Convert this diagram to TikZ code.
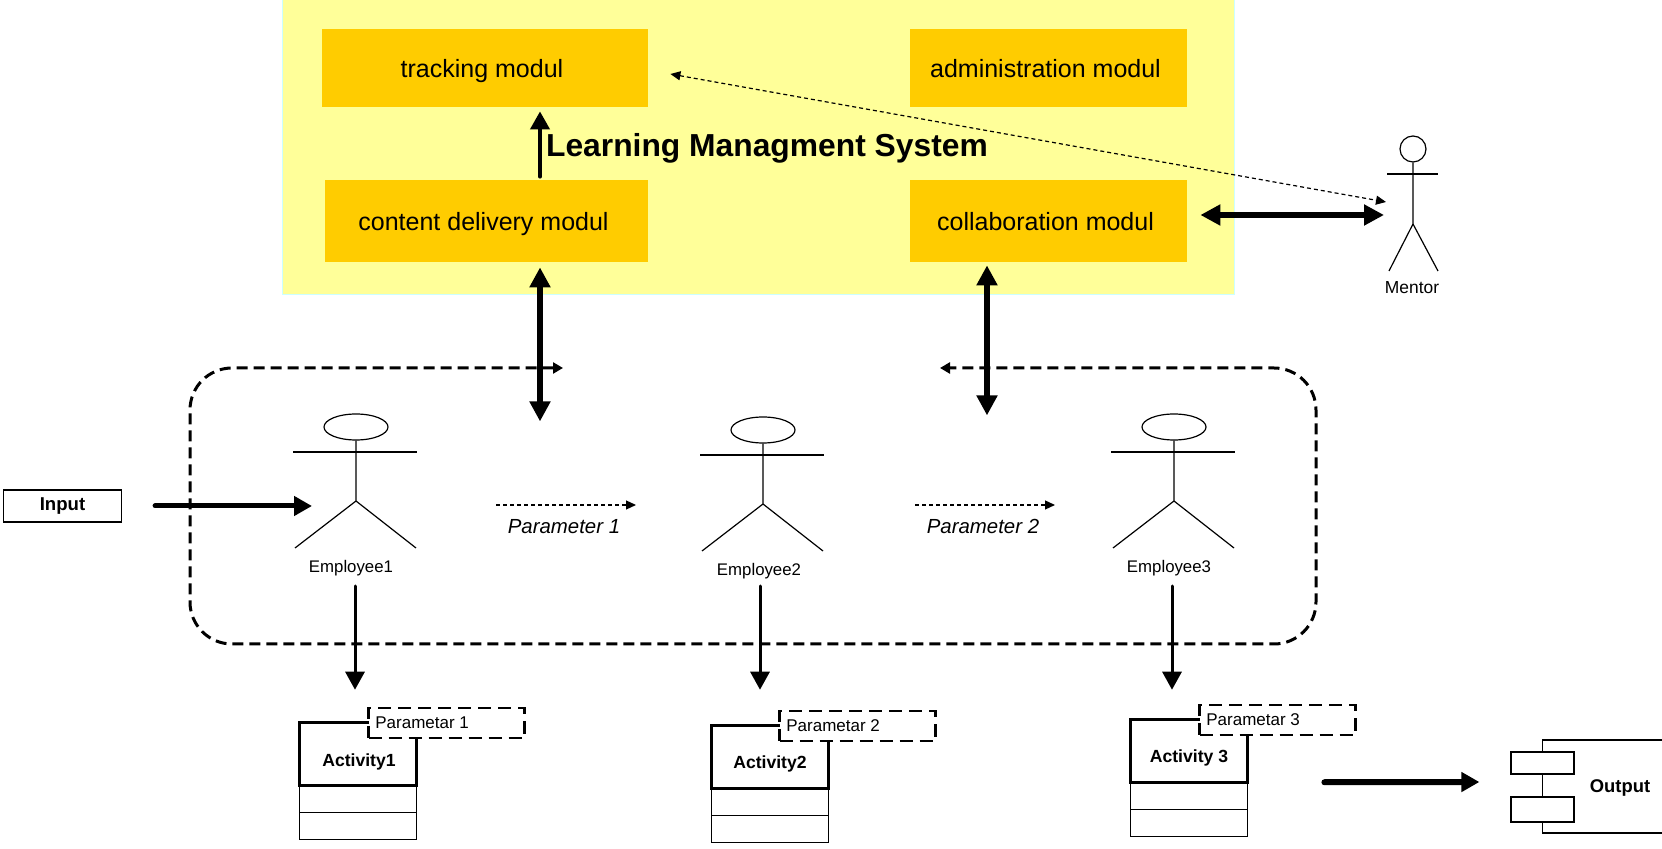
\documentclass[tikz,border=0pt]{standalone}
\usepackage{fontspec}
\setmainfont{Liberation Sans}
\usetikzlibrary{calc, arrows.meta, shapes.geometric}
\definecolor{panelyellow}{HTML}{FFFF99}
\definecolor{panelrim}{HTML}{CCFFFF}
\definecolor{moduleorange}{HTML}{FFCC00}
\tikzset{
	module/.style={fill=moduleorange, inner sep=0pt, text height=9.2pt, text depth=0pt, font=\fontsize{12.5}{15}\selectfont, execute at end node=\hspace{3pt}},
	person/.style={font=\fontsize{8.4}{10}\selectfont, inner sep=0pt},
	head/.style={draw, ellipse, minimum width=32pt, minimum height=13pt, inner sep=0pt, line width=0.6pt},
	limb/.style={line width=0.6pt},
	classbox/.style={draw, line width=1.5pt, outer sep=0pt, minimum width=58.4pt, minimum height=31.25pt, inner sep=0pt},
	classname/.style={font=\bfseries\fontsize{8.8}{10}\selectfont, inner sep=0pt},
	slot/.style={draw, line width=0.6pt, outer sep=0pt, minimum width=58.4pt, minimum height=13.5pt, inner sep=0pt},
	parambox/.style={draw, fill=white, dash pattern=on 6.5pt off 3.5pt, line width=1.25pt, minimum width=78pt, minimum height=15pt, inner sep=0pt},
	paramname/.style={font=\fontsize{8.5}{10}\selectfont, inner sep=0pt, anchor=west},
	plainbox/.style={draw, line width=0.6pt, inner sep=0pt},
	heavy/.style={line width=3pt, line cap=round, {Triangle[length=10pt,width=10pt]}-{Triangle[length=10pt,width=10pt]}},
	onearrow/.style={line width=#1, line cap=round, -{Triangle[length=9pt,width=9.5pt]}},
	thin dots/.style={line width=0.6pt, dash pattern=on 2pt off 1.5pt, -{Triangle[length=5pt,width=4.5pt]}},
	ruleline/.style={line width=1.5pt, dash pattern=on 5.5pt off 3pt},
	flowname/.style={midway, below=3.5pt, xshift=-1pt, font=\itshape\fontsize{10.2}{12}\selectfont}
}
\begin{document}
\begin{tikzpicture}[x=0.5pt, y=-0.5pt]
	\useasboundingbox (0,0) rectangle (1662,849);
	% panel and modules
	\node (lms) [fill=panelyellow, draw=panelrim, line width=0.5pt, minimum width=476pt, minimum height=147.5pt, inner sep=0pt] at (758,147.5) {};
	\node (m1) [module, minimum width=163pt, minimum height=39pt] at (485,68) {tracking modul};
	\node (m2) [module, minimum width=138.5pt, minimum height=39pt] at (1048.5,68) {administration modul};
	\node (m3) [module, minimum width=161.5pt, minimum height=41pt] at (486.5,221) {content delivery modul};
	\node (m4) [module, minimum width=138.5pt, minimum height=41pt] at (1048.5,221) {collaboration modul};
	\node (title) [font=\bfseries\fontsize{15.9}{19}\selectfont, inner sep=0pt] at (767,148) {Learning Managment System};

	% mentor
	\node (hm) [draw, circle, minimum size=13pt, inner sep=0pt, line width=0.6pt] at (1413,149) {};
	\node (lm) [person, font=\fontsize{8.7}{10}\selectfont] at (1412,288) {Mentor};
	\draw [limb] (hm.south) -- ($(hm)+(0,75)$) -- ($(hm)+(-24,122)$);
	\draw [limb] ($(hm)+(0,75)$) -- ($(hm)+(25,122)$);
	\draw [limb] ($(hm)+(-26,25)$) -- ($(hm)+(25,25)$);

	% employees
	\node (h1) [head] at (356,427) {};
	\node (l1) [person] at (351,568) {Employee1};
	\draw [limb] (h1.south) -- ($(h1)+(0,74)$) -- ($(h1)+(-61,121)$);
	\draw [limb] ($(h1)+(0,74)$) -- ($(h1)+(60,121)$);
	\draw [limb] ($(h1)+(-63,25)$) -- ($(h1)+(61,25)$);
	\node (h2) [head] at (763,430) {};
	\node (l2) [person] at (759,571) {Employee2};
	\draw [limb] (h2.south) -- ($(h2)+(0,74)$) -- ($(h2)+(-61,121)$);
	\draw [limb] ($(h2)+(0,74)$) -- ($(h2)+(60,121)$);
	\draw [limb] ($(h2)+(-63,25)$) -- ($(h2)+(61,25)$);
	\node (h3) [head] at (1174,427) {};
	\node (l3) [person] at (1169,568) {Employee3};
	\draw [limb] (h3.south) -- ($(h3)+(0,74)$) -- ($(h3)+(-61,121)$);
	\draw [limb] ($(h3)+(0,74)$) -- ($(h3)+(60,121)$);
	\draw [limb] ($(h3)+(-63,25)$) -- ($(h3)+(61,25)$);

	% team outline, open at the top
	\coordinate (gl) at (563,368);
	\coordinate (gr) at (940,368);
	\draw [ruleline, rounded corners=21pt, {Triangle[length=5pt,width=5.5pt]}-{Triangle[length=5pt,width=5.5pt]}] (gl) -- (190,368) -- (190,644) -- (1316,644) -- (1316,368) -- (gr);

	% activities
	\node (a1) [classbox] at (358,754) {};
	\node (t1) [classname] at (359,762) {Activity1};
	\node (s1) [slot, anchor=north] at (a1.south) {};
	\node (r1) [slot, anchor=north] at (s1.south) {};
	\node (p1) [parambox] at (446.5,723) {};
	\node (n1) [paramname] at (375,723) {Parametar 1};
	\node (a2) [classbox] at (770,757) {};
	\node (t2) [classname] at (770,764) {Activity2};
	\node (s2) [slot, anchor=north] at (a2.south) {};
	\node (r2) [slot, anchor=north] at (s2.south) {};
	\node (p2) [parambox] at (857.5,726) {};
	\node (n2) [paramname] at (786,726) {Parametar 2};
	\node (a3) [classbox] at (1189,751) {};
	\node (t3) [classname] at (1189,758) {Activity 3};
	\node (s3) [slot, anchor=north] at (a3.south) {};
	\node (r3) [slot, anchor=north] at (s3.south) {};
	\node (p3) [parambox] at (1277.5,720) {};
	\node (n3) [paramname] at (1206,720) {Parametar 3};

	% input and output
	\node (in) [plainbox, minimum width=59pt, minimum height=16pt, font=\bfseries\fontsize{9.3}{11}\selectfont] at (62.5,506) {Input};
	\node (c1) [plainbox, minimum width=31.5pt, minimum height=11pt] at (1542.5,763) {};
	\node (c2) [plainbox, minimum width=31.5pt, minimum height=12.5pt] at (1542.5,809.5) {};
	\draw [line width=0.75pt] (c1.north) -- (1542.5,740) -- (1662,740);
	\draw [line width=0.75pt] (c1.south) -- (c2.north);
	\draw [line width=0.75pt] (c2.south) -- (1542.5,833) -- (1662,833);
	\node (out) [font=\bfseries\fontsize{9.2}{11}\selectfont, inner sep=0pt] at (1620,788) {Output};

	% connectors
	\draw [onearrow=2pt] ($(m3.north)+(53.5,-3)$) -> ($(m1.south)+(55,4)$);
	\draw [heavy] ($(m3.south)+(53.5,5)$) -- ($(m3.south)+(53.5,159)$);
	\draw [heavy] ($(m4.south)+(-61.5,3)$) -- ($(m4.south)+(-61.5,153)$);
	\draw [heavy] ($(m4.east)+(13,-6)$) -- ($(hm)+(-29,66)$);
	\draw [thin dots, {Triangle[length=5pt,width=4.5pt]}-{Triangle[length=5pt,width=4.5pt]}] ($(m1.east)+(22,6)$) -- ($(hm)+(-27,53)$);
	\draw [onearrow=2.5pt] ($(in.east)+(33,0)$) -- ($(h1)+(-44,79)$);
	\draw [thin dots] ($(l1)+(145,-63)$) -- ($(h2)+(-127,75)$) node[flowname] {Parameter 1};
	\draw [thin dots] ($(l2)+(156,-66)$) -- ($(h3)+(-119,78)$) node[flowname] {Parameter 2};
	\draw [onearrow=1.5pt] ($(l1)+(4,18)$) -- ($(a1.north)+(-3,-33)$);
	\draw [onearrow=1.5pt] ($(l2)+(1,15)$) -- ($(a2.north)+(-10,-36)$);
	\draw [onearrow=1.5pt] ($(l3)+(3,18)$) -- ($(a3.north)+(-17,-30)$);
	\draw [onearrow=3pt] ($(a3.south east)+(77,0)$) -- ($(c1.west)+(-31,19)$);
\end{tikzpicture}
\end{document}
